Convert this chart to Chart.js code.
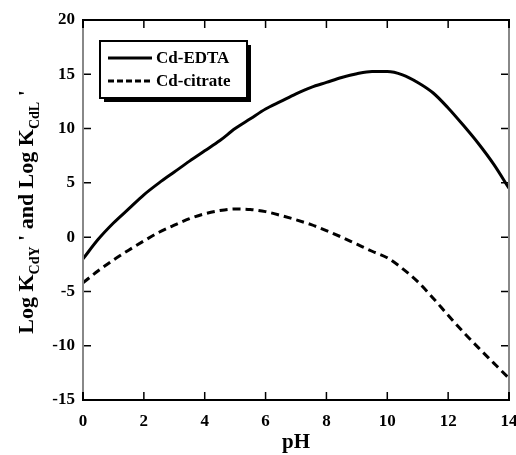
<!DOCTYPE html>
<html>
<head>
<meta charset="utf-8">
<script src="https://cdn.jsdelivr.net/npm/chart.js@4.4.1/dist/chart.umd.min.js"></script>
<style>
  body { margin: 0; background: #fff; }
  canvas { display: block; }
</style>
</head>
<body>
<canvas id="myChart" width="516" height="455"></canvas>
<script>
// values
const pH = [0, 0.5, 1, 1.5, 2, 2.5, 3, 3.5, 4, 4.5, 5, 5.5, 6, 6.5, 7,
  7.5, 8, 8.5, 9, 9.5, 10, 10.5, 11, 11.5, 12, 12.5, 13, 13.5, 14];
const cdEdta = [-2.0, -0.2, 1.3, 2.6, 3.9, 5.0, 6.0, 7.0, 7.95, 8.9, 10.0,
  10.9, 11.8, 12.5, 13.2, 13.8, 14.25, 14.7, 15.05, 15.25, 15.25, 14.95,
  14.25, 13.3, 11.9, 10.3, 8.6, 6.7, 4.5];
const cdCitrate = [-4.2, -3.1, -2.1, -1.2, -0.35, 0.45, 1.1, 1.7, 2.15, 2.45,
  2.6, 2.55, 2.35, 2.0, 1.6, 1.15, 0.6, 0.0, -0.65, -1.3, -1.9, -2.9, -4.1,
  -5.6, -7.2, -8.75, -10.2, -11.6, -13.0];
const seriesNames = ["Cd-EDTA", "Cd-citrate"];
const xTicks = [0, 2, 4, 6, 8, 10, 12, 14];
const yTicks = [-15, -10, -5, 0, 5, 10, 15, 20];

const serif = "'Liberation Serif', 'Times New Roman', serif";

function points(ys) {
  return pH.map((x, i) => ({ x: x, y: ys[i] }));
}

// frame with inward ticks on all four sides
const framePlugin = {
  id: "frame",
  afterDatasetsDraw(chart) {
    const { ctx, chartArea: a, scales } = chart;
    ctx.save();
    ctx.strokeStyle = "#000";
    ctx.lineWidth = 1.5;
    xTicks.forEach((v) => {
      const px = scales.x.getPixelForValue(v);
      ctx.beginPath();
      ctx.moveTo(px, a.bottom);
      ctx.lineTo(px, a.bottom - 8);
      ctx.moveTo(px, a.top);
      ctx.lineTo(px, a.top + 8);
      ctx.stroke();
    });
    yTicks.forEach((v) => {
      const py = scales.y.getPixelForValue(v);
      ctx.beginPath();
      ctx.moveTo(a.left, py);
      ctx.lineTo(a.left + 8, py);
      ctx.moveTo(a.right, py);
      ctx.lineTo(a.right - 8, py);
      ctx.stroke();
    });
    // sides
    ctx.lineWidth = 2;
    ctx.strokeStyle = "#888";
    ctx.beginPath();
    ctx.moveTo(a.left, a.top);
    ctx.lineTo(a.left, a.bottom);
    ctx.moveTo(a.right, a.top);
    ctx.lineTo(a.right, a.bottom);
    ctx.stroke();
    ctx.strokeStyle = "#000";
    ctx.beginPath();
    ctx.moveTo(a.left - 1, a.top);
    ctx.lineTo(a.right + 1, a.top);
    ctx.moveTo(a.left - 1, a.bottom);
    ctx.lineTo(a.right + 1, a.bottom);
    ctx.stroke();
    // corner ticks
    ctx.beginPath();
    ctx.moveTo(a.left, a.top);
    ctx.lineTo(a.left, a.top + 8);
    ctx.moveTo(a.right, a.top);
    ctx.lineTo(a.right, a.top + 8);
    ctx.moveTo(a.left, a.bottom);
    ctx.lineTo(a.left, a.bottom - 8);
    ctx.moveTo(a.right, a.bottom);
    ctx.lineTo(a.right, a.bottom - 8);
    ctx.stroke();
    ctx.restore();
  }
};

// boxed legend with drop shadow
const legendPlugin = {
  id: "boxLegend",
  afterDraw(chart) {
    const ctx = chart.ctx;
    const bx = 100, by = 41, bw = 147, bh = 57;
    ctx.save();
    ctx.fillStyle = "#000";
    ctx.fillRect(bx + 4, by + 4, bw, bh);
    ctx.fillStyle = "#fff";
    ctx.fillRect(bx, by, bw, bh);
    ctx.strokeStyle = "#000";
    ctx.lineWidth = 2;
    ctx.strokeRect(bx, by, bw, bh);
    ctx.font = "bold 17px " + serif;
    ctx.textBaseline = "middle";
    ctx.fillStyle = "#000";
    chart.data.datasets.forEach((ds, i) => {
      const y = by + 17 + i * 23;
      ctx.beginPath();
      ctx.lineWidth = 3;
      ctx.setLineDash(i === 0 ? [] : [6, 3]);
      ctx.moveTo(bx + 8, y);
      ctx.lineTo(bx + 52, y);
      ctx.stroke();
      ctx.setLineDash([]);
      ctx.fillText(ds.label, bx + 56, y + 1);
    });
    ctx.restore();
  }
};

// y axis title with subscripts
const yTitlePlugin = {
  id: "yTitle",
  afterDraw(chart) {
    const ctx = chart.ctx;
    const main = "bold 22px " + serif;
    const sub = "bold 14px " + serif;
    const parts = [
      ["Log K", main, 0],
      ["CdY", sub, 6],
      [" '", main, 0],
      [" and Log K", main, 0],
      ["CdL", sub, 6],
      [" '", main, 0]
    ];
    ctx.save();
    let total = 0;
    parts.forEach((p) => {
      ctx.font = p[1];
      total += ctx.measureText(p[0]).width;
    });
    const mid = (chart.chartArea.top + chart.chartArea.bottom) / 2;
    ctx.translate(33, mid + 2);
    ctx.rotate(-Math.PI / 2);
    ctx.fillStyle = "#000";
    ctx.textBaseline = "alphabetic";
    let x = -total / 2;
    parts.forEach((p) => {
      ctx.font = p[1];
      ctx.fillText(p[0], x, p[2]);
      x += ctx.measureText(p[0]).width;
    });
    ctx.restore();
  }
};

const bgPlugin = {
  id: "bg",
  beforeDraw(chart) {
    const ctx = chart.ctx;
    ctx.save();
    ctx.fillStyle = "#fff";
    ctx.fillRect(0, 0, chart.width, chart.height);
    ctx.restore();
  }
};

const ctx = document.getElementById("myChart");

const myChart = new Chart(ctx, {
  type: "line",
  data: {
    datasets: [
      {
        label: seriesNames[0],
        data: points(cdEdta),
        borderColor: "#000",
        borderWidth: 3,
        pointRadius: 0,
        cubicInterpolationMode: "monotone",
        fill: false
      },
      {
        label: seriesNames[1],
        data: points(cdCitrate),
        borderColor: "#000",
        borderWidth: 3,
        borderDash: [8, 5],
        pointRadius: 0,
        cubicInterpolationMode: "monotone",
        fill: false
      }
    ]
  },
  options: {
    responsive: false,
    animation: false,
    devicePixelRatio: 1,
    layout: { padding: { top: 20, right: 7, left: 0, bottom: 0 } },
    plugins: {
      legend: { display: false },
      tooltip: { enabled: false }
    },
    scales: {
      x: {
        type: "linear",
        min: 0,
        max: 14,
        afterBuildTicks(scale) {
          scale.ticks = xTicks.map((v) => ({ value: v }));
        },
        afterFit(scale) {
          scale.height = 55;
          scale.paddingLeft = 0;
          scale.paddingRight = 0;
        },
        grid: { display: true, drawOnChartArea: false, drawTicks: false },
        border: { display: false },
        ticks: {
          color: "#000",
          padding: 11,
          maxRotation: 0,
          font: { family: serif, size: 17, weight: "bold" }
        },
        title: {
          display: true,
          text: "pH",
          color: "#000",
          padding: { top: 0, bottom: 0 },
          font: { family: serif, size: 21, weight: "bold" }
        }
      },
      y: {
        min: -15,
        max: 20,
        afterBuildTicks(scale) {
          scale.ticks = yTicks.map((v) => ({ value: v }));
        },
        afterFit(scale) {
          scale.width = 83;
          scale.paddingTop = 0;
          scale.paddingBottom = 0;
        },
        grid: { display: true, drawOnChartArea: false, drawTicks: false },
        border: { display: false },
        ticks: {
          color: "#000",
          padding: 8,
          font: { family: serif, size: 17, weight: "bold" }
        }
      }
    }
  },
  plugins: [bgPlugin, framePlugin, legendPlugin, yTitlePlugin]
});
</script>
</body>
</html>
